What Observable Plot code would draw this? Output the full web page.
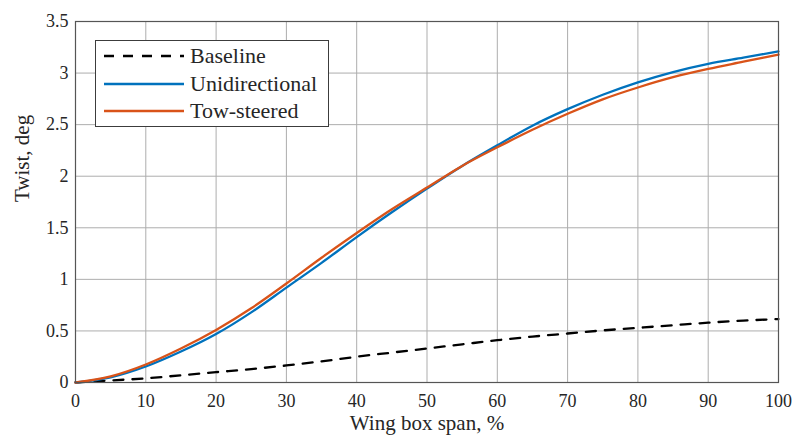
<!DOCTYPE html>
<html>
<head>
<meta charset="utf-8">
<script src="https://cdn.jsdelivr.net/npm/d3@7"></script>
<script src="https://cdn.jsdelivr.net/npm/@observablehq/plot@0.6"></script>
<style>
  html, body { margin: 0; padding: 0; background: #fff; }
  #wrap { position: relative; width: 795px; height: 442px; font-family: "Liberation Serif", "DejaVu Serif", serif; }
  #legend { position: absolute; left: 95px; top: 40px; width: 232px; height: 85px; border: 1px solid #3c3c3c; background: #fff; box-sizing: content-box; }
  #legend .row { position: absolute; left: 0; height: 26px; display: flex; align-items: center; }
  #legend .row span { font-size: 22px; color: #262626; margin-left: 6px; line-height: 26px; }
</style>
</head>
<body>
<div id="wrap"></div>
<script>
const span = [0, 5, 10, 15, 20, 25, 30, 35, 40, 45, 50, 55, 60, 65, 70, 75, 80, 85, 90, 95, 100];
const unidirectional = [0, 0.05, 0.155, 0.30, 0.47, 0.68, 0.92, 1.16, 1.41, 1.65, 1.88, 2.10, 2.30, 2.49, 2.65, 2.79, 2.91, 3.01, 3.09, 3.15, 3.21];
const towSteered = [0, 0.06, 0.175, 0.33, 0.51, 0.72, 0.96, 1.21, 1.45, 1.68, 1.89, 2.10, 2.28, 2.45, 2.605, 2.745, 2.86, 2.96, 3.04, 3.11, 3.18];
const baseline = [0, 0.02, 0.04, 0.07, 0.10, 0.13, 0.165, 0.205, 0.25, 0.29, 0.33, 0.37, 0.41, 0.445, 0.475, 0.505, 0.53, 0.555, 0.58, 0.60, 0.615];
const seriesNames = ["Baseline", "Unidirectional", "Tow-steered"];
const seriesColors = ["#000000", "#0072BD", "#D95319"];
const xTicks = [0, 10, 20, 30, 40, 50, 60, 70, 80, 90, 100];
const yTicks = [0, 0.5, 1, 1.5, 2, 2.5, 3, 3.5];
const xLabel = "Wing box span, %";
const yLabel = "Twist, deg";

const rows = (vals) => span.map((s, i) => ({x: s, y: vals[i]}));
const font = "'Liberation Serif', 'DejaVu Serif', serif";

const chart = Plot.plot({
  width: 795,
  height: 442,
  marginLeft: 75,
  marginRight: 17,
  marginTop: 21,
  marginBottom: 60,
  style: {fontFamily: font, fontSize: "18px", color: "#262626", background: "#fff"},
  x: {domain: [0, 100], ticks: xTicks, label: null},
  y: {domain: [0, 3.5], ticks: yTicks, label: null},
  marks: [
    Plot.gridX(xTicks, {stroke: "#adadad", strokeOpacity: 1, strokeWidth: 1}),
    Plot.gridY(yTicks, {stroke: "#adadad", strokeOpacity: 1, strokeWidth: 1}),
    Plot.axisX(xTicks, {tickSize: 0, tickPadding: 12, fontSize: 18, fill: "#262626"}),
    Plot.axisY(yTicks, {tickSize: 0, tickPadding: 7, fontSize: 18, fill: "#262626", tickFormat: d => String(d)}),
    Plot.line(rows(baseline), {x: "x", y: "y", stroke: seriesColors[0], strokeWidth: 2.3, strokeDasharray: "10,9", curve: "monotone-x"}),
    Plot.line(rows(unidirectional), {x: "x", y: "y", stroke: seriesColors[1], strokeWidth: 2.3, curve: "monotone-x"}),
    Plot.line(rows(towSteered), {x: "x", y: "y", stroke: seriesColors[2], strokeWidth: 2.3, curve: "monotone-x"}),
    Plot.frame({stroke: "#555", strokeWidth: 1.2}),
    Plot.text([xLabel], {frameAnchor: "bottom", dy: 47, fontSize: 21, fill: "#262626"}),
    Plot.text([yLabel], {frameAnchor: "left", dx: -53, rotate: -90, fontSize: 21, fill: "#262626"})
  ]
});

const wrap = document.getElementById("wrap");
wrap.appendChild(chart);

const legend = document.createElement("div");
legend.id = "legend";
seriesNames.forEach((name, i) => {
  const row = document.createElement("div");
  row.className = "row";
  row.style.top = (2 + i * 27.5) + "px";
  row.style.left = "8px";
  const svg = document.createElementNS("http://www.w3.org/2000/svg", "svg");
  svg.setAttribute("width", "80");
  svg.setAttribute("height", "10");
  const ln = document.createElementNS("http://www.w3.org/2000/svg", "line");
  ln.setAttribute("x1", "0"); ln.setAttribute("x2", "80");
  ln.setAttribute("y1", "5"); ln.setAttribute("y2", "5");
  ln.setAttribute("stroke", seriesColors[i]);
  ln.setAttribute("stroke-width", "2.3");
  if (i === 0) ln.setAttribute("stroke-dasharray", "10,9");
  svg.appendChild(ln);
  row.appendChild(svg);
  const t = document.createElement("span");
  t.textContent = name;
  row.appendChild(t);
  legend.appendChild(row);
});
wrap.appendChild(legend);
</script>
</body>
</html>
